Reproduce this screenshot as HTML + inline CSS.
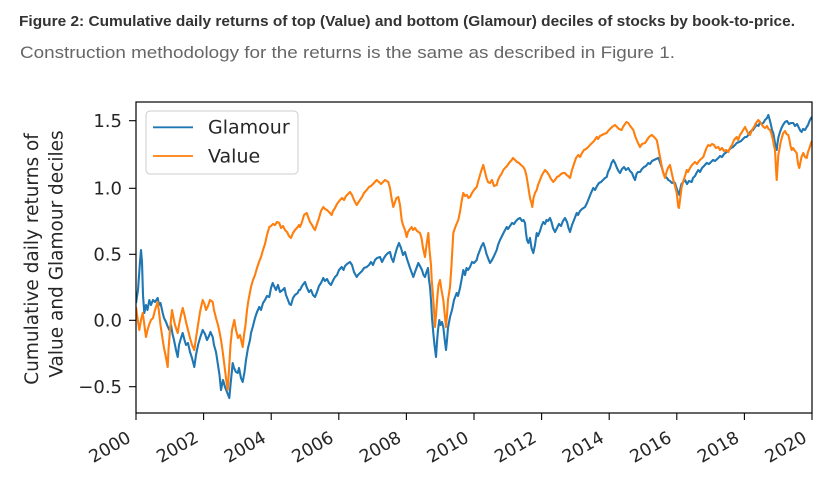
<!DOCTYPE html>
<html><head><meta charset="utf-8">
<style>
html,body{margin:0;padding:0;background:#fff;}
svg{display:block;}
</style></head>
<body>
<svg width="839" height="500" viewBox="0 0 839 500" xmlns="http://www.w3.org/2000/svg">
<rect width="839" height="500" fill="#fff"/>
<text x="19" y="26" font-family="Liberation Sans, sans-serif" font-weight="bold" font-size="14.5" fill="#333" textLength="776" lengthAdjust="spacingAndGlyphs">Figure 2: Cumulative daily returns of top (Value) and bottom (Glamour) deciles of stocks by book-to-price.</text>
<text x="20" y="58" font-family="Liberation Sans, sans-serif" font-size="17" fill="#666" textLength="655" lengthAdjust="spacingAndGlyphs">Construction methodology for the returns is the same as described in Figure 1.</text>

<g font-family="DejaVu Sans, sans-serif" fill="#262626">
<text transform="translate(38,259) rotate(-90)" text-anchor="middle" font-size="18.5">Cumulative daily returns of</text>
<text transform="translate(62.5,254) rotate(-90)" text-anchor="middle" font-size="18.5">Value and Glamour deciles</text>

<g font-size="18" text-anchor="end">
<text x="122" y="127.2">1.5</text>
<text x="122" y="194.7">1.0</text>
<text x="122" y="260.7">0.5</text>
<text x="122" y="326.6">0.0</text>
<text x="122" y="393.2">−0.5</text>
</g>
<g stroke="#000" stroke-width="1.1">
<line x1="129" y1="120.7" x2="136" y2="120.7"/>
<line x1="129" y1="188.3" x2="136" y2="188.3"/>
<line x1="129" y1="254.3" x2="136" y2="254.3"/>
<line x1="129" y1="320.3" x2="136" y2="320.3"/>
<line x1="129" y1="386.7" x2="136" y2="386.7"/>
<line x1="136" y1="413" x2="136" y2="420"/>
<line x1="203.6" y1="413" x2="203.6" y2="420"/>
<line x1="271.2" y1="413" x2="271.2" y2="420"/>
<line x1="338.8" y1="413" x2="338.8" y2="420"/>
<line x1="406.4" y1="413" x2="406.4" y2="420"/>
<line x1="474" y1="413" x2="474" y2="420"/>
<line x1="541.6" y1="413" x2="541.6" y2="420"/>
<line x1="609.2" y1="413" x2="609.2" y2="420"/>
<line x1="676.8" y1="413" x2="676.8" y2="420"/>
<line x1="744.4" y1="413" x2="744.4" y2="420"/>
<line x1="812" y1="413" x2="812" y2="420"/>
</g>
<g font-size="17.5" text-anchor="end">
<text transform="translate(132,441) rotate(-30)">2000</text>
<text transform="translate(199.6,441) rotate(-30)">2002</text>
<text transform="translate(267.2,441) rotate(-30)">2004</text>
<text transform="translate(334.8,441) rotate(-30)">2006</text>
<text transform="translate(402.4,441) rotate(-30)">2008</text>
<text transform="translate(470,441) rotate(-30)">2010</text>
<text transform="translate(537.6,441) rotate(-30)">2012</text>
<text transform="translate(605.2,441) rotate(-30)">2014</text>
<text transform="translate(672.8,441) rotate(-30)">2016</text>
<text transform="translate(740.4,441) rotate(-30)">2018</text>
<text transform="translate(808,441) rotate(-30)">2020</text>
</g>
</g>

<defs><clipPath id="c"><rect x="136" y="102" width="676" height="311"/></clipPath></defs>
<g clip-path="url(#c)" fill="none" stroke-width="2.1" stroke-linejoin="round">
<polyline stroke="#1f77b4" points="136,303 138,290 140,262 141,250 142,262 143,295 144.3,313 146,305 147.5,310 149.3,300 151,305 153,300 155,302 157.7,298 159,305 160.5,303 162.7,313 164,318 166,322 167.5,326 169.3,330 171,325 172.5,334 174,340 176,350 177.7,357 179,345 181,338 182.7,333 184.5,340 186,345 188,343 190,352 192,358 194.3,367 196,355 198,345 200,338 202.7,330 205,334 207,340 209,336 210.5,332 212.7,337 214,345 216,352 218,365 219.5,375 221,390 223,380 225,387 227,392 229.3,398 230.5,385 232.7,363 234,368 236,372 237.7,373 239,368 241,378 242.7,382 244.5,372 246,360 248,348 250,340 251,333 253,326 255,318 257,312 259.3,307 261,310 263,303 265,300 267,296 269.3,297 271,288 272.7,283 274,286 276,290 278,285 280,292 282.7,290 284.5,288 286,295 288,300 289.5,304 291,305 293,298 295,295 297.7,293 299,290 300,290 302,286 305,282 307,288 309,292 311,290 313,295 315,297 317,292 319,286 321,283 323.3,278 325,281 327,279 329,283 331,285 333.3,280 335,277 337,275 339,270 341.7,267 343.5,270 345,266 347,264 350,262 352,265 354,272 356.7,277 358,275 360,273 362,271 364,268 366.7,267 369,265 371,262 373,265 375,260 377,258 380,257 382,262 384,258 386,255 388,253 390,252 391.5,258 393.3,262 395,255 397,248 399,243 401,248 403,255 405,252 406.7,258 408,262 410,268 411.5,272 413.3,277 415,272 416.5,268 418.3,263 420,266 422,270 423.5,275 425,277 426.5,272 428,268 429,280 430,287 431,300 432,318 433.3,333 434.5,345 436,357 437,342 438,330 439.3,320 440.5,325 442,322 443.3,327 444.5,338 446,350 447,340 448,328 450,317 452,310 454,300 456.7,293 458,296 460,288 461.5,280 463.3,270 465,275 466.5,268 468,270 470,267 472,262 474,263 476.7,260 478,255 480,250 481.5,246 483.3,243 485,248 486.5,254 488,258 490,263 492,260 494,256 496.7,250 498,245 500,240 502,236 504,232 506.7,227 508,229 510,226 512,223 514,224 516,221 518,219 520,218 522,221 523.5,220 525,223 526,233 527,240 528.3,243 530,238 531.5,248 533.3,253 535,245 536.7,233 538,236 540,231 541.5,226 543.3,222 545,224 546.5,220 548,221 550,218 551.5,222 553,228 555,232 557,228 559,224 561,226 563,221 565,218 567,222 568.5,228 570,232 572,225 574,220 576.7,213 578,215 580,211 582,209 585,207 587,203 589,198 591,193 593.3,188 595,190 597,186 599,183 601,182 603,180 605,178 606.7,177 608,172 610,168 611.5,163 613.3,160 615,163 617,168 618.5,171 620,173 622,169 624,167 626,170 628.3,168 630,171 632,173 633.5,177 635,180 636.5,174 638,172 640,172 642,169 644,167 646,166 648.3,163 650,164 652,161 654,160 656,159 658.3,158 660,162 662,168 663.3,173 665,176 667,178 668.3,180 670,181 672,183 673.5,182 675,183 676.5,188 678,192 679.3,195 680.5,188 681.5,184 683.3,182 685,180 687,184 689,181 691.7,182 693,178 695,176 696.5,173 698.3,170 700,172 702,168 704,166 706.7,163 709,164 711,162 713,160 715,161 718.3,158 720,156 722,157 724,154 726.7,152 729,150 731,148 733,147 735,145 736.7,143 739,142 741,141 743,139 745,137 746.7,137 749,134 751,131 753,130 755,127 756.7,125 758.5,126 760,122 761.5,124 763.3,123 765,120 767,118 768.3,115 769.5,119 771,125 772,130 773.3,133 774.5,140 775.5,146 776.7,150 777.5,143 778.5,137 780,132 781.5,128 783,125 785,122 787,121 789,124 791,123 793.3,123 795,126 797,124 799,128 800.5,131 801.7,132 803,129 805,130 806.7,127 808,125 809.5,121 811,118 812,117"/>
<polyline stroke="#ff7f0e" points="136,307 137.5,318 139.3,330 141,320 142.7,313 144,322 145,330 146,337 147.5,330 149,325 151,320 153,318 155,310 157.7,302 159,312 160.5,325 162.7,340 164,348 165.5,355 167.7,367 168.5,350 170,330 172,310 173.5,318 175,325 177.7,333 179,325 181,315 182.7,308 184.5,315 186,322 188,330 190,338 192,345 194.3,350 196,338 198,325 200,312 202.7,300 204.5,304 206,310 208,306 210,300 212.7,302 214,310 216,318 218,325 219.5,332 221,340 222.5,350 224,362 226,378 227.7,390 229,370 230.5,345 232,330 234.3,320 236,330 238,338 240,335 242.7,347 244,335 245.5,325 247,310 248.5,300 251,287 253,280 255,275 257,268 259,262 261,257 263,250 265,244 267,235 269.3,227 271,226 273,224 275,225 277,222 279.3,223 281,228 283,226 285,230 287,232 289,236 291,238 293,233 295,230 297.7,227 299,225 300,227 302,222 304,215 306.7,213 308.5,218 310,222 312,225 313.5,228 315,230 317,224 319,218 321,211 323.3,207 325,209 327,210 329,212 331.7,215 333,211 335,208 337,204 340,200 342,198 344,200 346,196 348,194 350,192 352,195 354,200 356.7,205 358,203 360,200 362,197 364,193 366.7,190 369,187 371,186 373,184 376.7,180 379,182 381,184 383,182 385,180 388.3,182 390,188 391.5,198 393.3,207 395,202 396.5,198 398.3,197 400,205 401.7,220 403,225 405,230 406.7,237 408,232 410,229 411.7,227 413,230 415,228 417,231 420,233 421.5,238 423,248 425,257 426.5,245 428.3,233 429.5,250 431,265 431.7,280 433,295 434,310 435,327 436,315 437.5,295 438.5,285 440,280 441.5,290 443.3,300 444.5,312 446,327 447,315 448,300 450,287 451.5,265 453.3,233 455,228 456.5,224 458.3,220 460,212 461.5,202 463.3,193 465,196 467,195 468.5,198 470,197 472,193 474,190 476.7,187 478,182 480,175 481.5,170 483.3,165 485,172 486.5,178 488,182 490,183 492,180 494,186 496.7,185 498,180 500,176 501.5,174 503.3,170 505,168 507,166 509,163 511.7,160 513,158 515,160 517,162 519,163 521,165 523.3,167 525,170 526.5,176 528.3,187 529.5,195 530.5,200 531.5,203 532.3,207 533.5,198 535,193 536.7,190 538,185 540,180 542,175 545,170 547,172 549,175 551,179 553.3,182 555,180 557,177 559,176 561,174 563,173 565,173 566.5,175 568,176 570,178 572,170 574,164 576,158 578.3,155 580,157 582,153 584,150 586,149 588.3,147 590,145 592,143 594,141 596.7,137 598,139 600,136 602,135 604,134 606.7,133 608,131 610,129 612,127 615,125 617,127 619,129 621.7,130 623,127 625,124 626.5,122 628.3,123 629.5,125 631,127 633.3,130 634.5,134 635.5,137 636.7,140 638,143 640,147 642,144 645,143 647,140 649,137 651.7,135 653,136 655,138 656.7,140 658,146 659,152 660,157 661.5,165 663,172 665,178 666.5,172 668,168 670,165 671.5,172 673.3,180 675,186 676.7,193 677.5,200 678.3,207 679,208 680,200 681.7,187 683,182 685,176 686.7,170 688,172 690,168 692,165 695,162 697,164 699,161 701,159 703.3,157 705,152 706.5,148 708.3,145 710,146 712,144 714,145 716,148 718.3,147 720,150 722,148 724,151 726,150 728.3,152 730,148 732,145 734,140 736.7,137 738,140 740,135 742,132 745,127 746.5,130 748,133 750,135 752,130 754,127 756,123 758.3,120 760,122 762,125 763.5,127 765,128 767,126 768.5,129 770,130 771.5,134 773,140 774,146 775,150 775.8,165 776.7,180 777.5,168 778.3,155 779.3,150 780.5,143 782,137 783.3,133 785,131 786.5,134 788.3,135 789.5,140 790.5,146 791.7,150 793,148 795,151 796.7,153 797.5,160 798.3,165 799.3,168 800.5,162 801.5,157 803.3,153 805,157 806.7,158 808,152 809.5,148 811,143 812,141"/>
</g>

<rect x="136" y="102" width="676" height="311" fill="none" stroke="#000" stroke-width="1.2"/>

<rect x="146" y="111" width="152" height="63" rx="4" ry="4" fill="#fff" fill-opacity="0.85" stroke="#cccccc" stroke-width="1"/>
<line x1="153" y1="127.3" x2="193" y2="127.3" stroke="#1f77b4" stroke-width="1.8"/>
<line x1="153" y1="156" x2="193" y2="156" stroke="#ff7f0e" stroke-width="1.8"/>
<text x="208" y="133.5" font-family="DejaVu Sans, sans-serif" font-size="19" fill="#262626">Glamour</text>
<text x="208" y="162.5" font-family="DejaVu Sans, sans-serif" font-size="19" fill="#262626">Value</text>
</svg>
</body></html>
